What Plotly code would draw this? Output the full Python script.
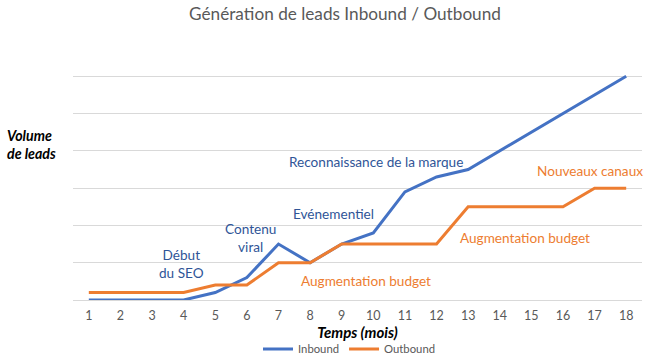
import plotly.graph_objects as go

months = list(range(1, 19))
inbound = [0, 0, 0, 0, 0.2, 0.6, 1.5, 1.0, 1.5, 1.8, 2.9, 3.3, 3.5, 4.0, 4.5, 5.0, 5.5, 6.0]
outbound = [0.2, 0.2, 0.2, 0.2, 0.4, 0.4, 1.0, 1.0, 1.5, 1.5, 1.5, 1.5, 2.5, 2.5, 2.5, 2.5, 3.0, 3.0]

ann_texts = ["Début<br>du SEO", "Contenu<br>viral", "Evénementiel", "Reconnaissance de la marque",
             "Nouveaux canaux", "Augmentation budget", "Augmentation budget"]
ann_x = [3.94, 6.12, 8.74, 10.1, 16.86, 9.76, 14.81]
ann_y = [0.97, 1.67, 2.31, 3.69, 3.45, 0.51, 1.67]
ann_series = ["in", "in", "in", "in", "out", "out", "out"]

BLUE = "#4472C4"
ORANGE = "#ED7D31"
TXT_BLUE = "#2F5597"
FONT = "Lato"

W, H = 655, 359
ml, mr, mt, mb = 73, 13, 39, 59
pw, ph = W - ml - mr, H - mt - mb

fig = go.Figure()
fig.add_trace(go.Scatter(x=months, y=inbound, mode="lines", name="Inbound",
                         line=dict(color=BLUE, width=3)))
fig.add_trace(go.Scatter(x=months, y=outbound, mode="lines", name="Outbound",
                         line=dict(color=ORANGE, width=3)))

for t, x, y, s in zip(ann_texts, ann_x, ann_y, ann_series):
    fig.add_annotation(x=x, y=y, text=t, showarrow=False, xref="x", yref="y",
                       font=dict(family=FONT, size=13.6, color=TXT_BLUE if s == "in" else ORANGE),
                       align="center")

fig.add_annotation(x=(5 - ml) / pw, y=(H - mb - 144) / ph, xref="paper", yref="paper",
                   text="<b><i>Volume<br>de leads</i></b>",
                   showarrow=False, align="left", xanchor="left", yanchor="middle",
                   font=dict(family=FONT, size=14.2, color="#000000"))

fig.update_layout(
    template="none",
    width=W, height=H,
    margin=dict(l=ml, r=mr, t=mt, b=mb, autoexpand=False),
    paper_bgcolor="white", plot_bgcolor="white",
    title=dict(text="Génération de leads Inbound / Outbound", x=345 / W, xanchor="center",
               y=1 - 14 / H, yanchor="middle",
               font=dict(family=FONT, size=17.2, color="#595959")),
    xaxis=dict(range=[0.5, 18.5], tickmode="array", tickvals=months, automargin=False,
               ticktext=[str(m) for m in months], showgrid=False, zeroline=False,
               showline=False, ticks="", ticklen=0, ticklabelstandoff=6,
               tickfont=dict(family=FONT, size=12.5, color="#595959"),
               title=dict(text="<b><i>Temps (mois)</i></b>", standoff=2,
                          font=dict(family=FONT, size=15, color="#000000"))),
    yaxis=dict(range=[0, 7], dtick=1, showticklabels=False, showgrid=True, automargin=False,
               gridcolor="#D9D9D9", gridwidth=1, zeroline=True, zerolinecolor="#D9D9D9",
               zerolinewidth=1, ticks="", showline=False),
    legend=dict(orientation="h", x=(258 - ml) / pw, xanchor="left", xref="paper",
                y=(H - mb - 349) / ph, yanchor="middle",
                font=dict(family=FONT, size=11.3, color="#595959"),
                bgcolor="rgba(0,0,0,0)", tracegroupgap=0),
    showlegend=True,
)

fig.write_html("out.html", config={"displayModeBar": False},
               post_script="document.body.style.margin='0';document.body.style.padding='0';"
                           "document.body.style.overflow='hidden';")
